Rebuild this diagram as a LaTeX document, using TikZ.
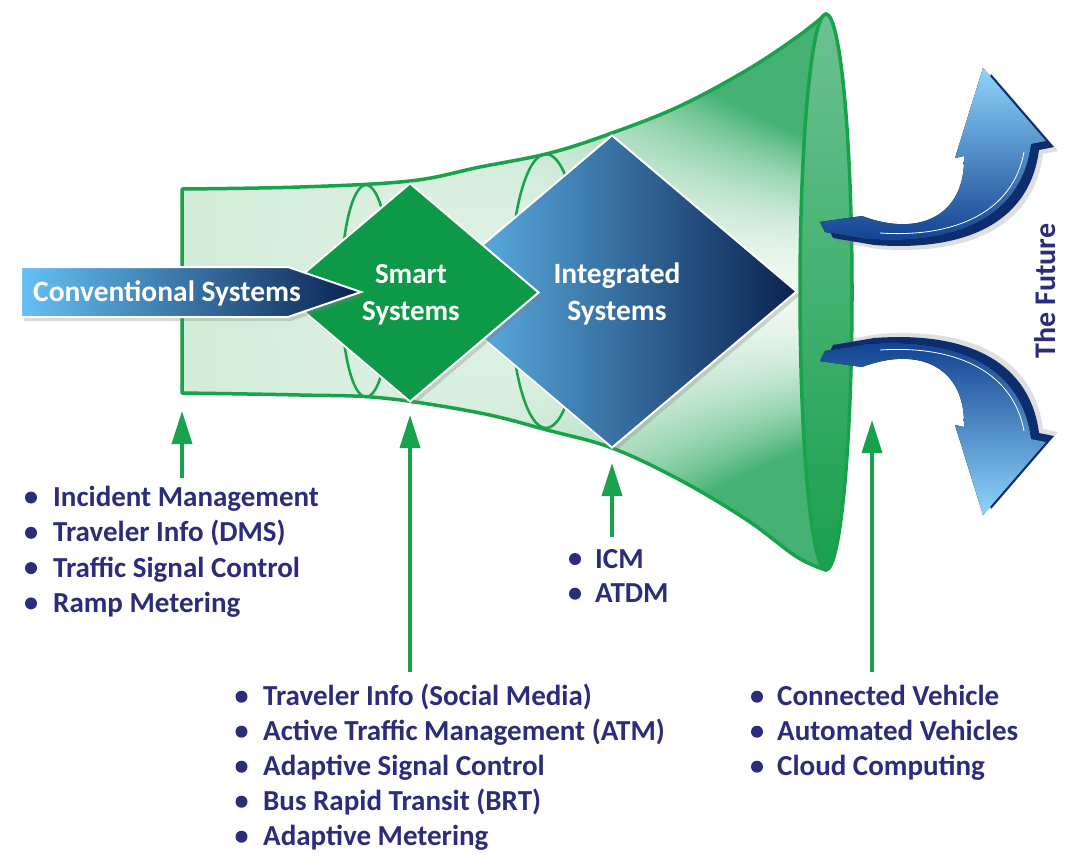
\documentclass[tikz,border=0pt]{standalone}
\usepackage{fontspec}
\setmainfont{Carlito}
\usetikzlibrary{arrows.meta,shapes.geometric,shadows}
\definecolor{fgreen}{HTML}{17A24B}
\definecolor{dgreen}{HTML}{0E9948}
\definecolor{navy}{HTML}{2B2C7A}
\definecolor{lblue}{HTML}{66C0F4}
\definecolor{mblue}{HTML}{1D62AE}
\definecolor{dblue}{HTML}{0A2250}
\definecolor{sideblue}{HTML}{0C2E6E}
\definecolor{rimT}{HTML}{6CC290}
\definecolor{rimB}{HTML}{1AA050}
\definecolor{arrL}{HTML}{8FD5FB}
\definecolor{arrD}{HTML}{0F3E8E}
\pgfdeclarefunctionalshading{cone}{\pgfpoint{0bp}{0bp}}{\pgfpoint{100bp}{100bp}}{}{
  50 sub abs 25 div dup 1 gt {pop 1} if
  2 exp
  exch 25 sub 50 div dup 0 lt {pop 0} if dup 1 gt {pop 1} if
  dup 3 exp
  3 -1 roll mul 3.5 mul dup 1 gt {pop 1} if
  1 index 0.12 mul 0.82 add dup 0.27 exch sub 2 index mul add
  2 index 0.05 mul 0.925 add dup 0.70 exch sub 3 index mul add
  3 index 0.10 mul 0.85 add dup 0.45 exch sub 4 index mul add
  5 -2 roll pop pop
}
\newcommand\futpath{(820,222) -- (862,216) .. controls (920,238) and (966,215) .. (964,156) -- (955,158) -- (983,68) -- (1046,141) -- (1031,144) .. controls (1022,215) and (960,246) .. (866,239) -- (825,232) -- cycle}
\newcommand\funnelpath{plot[smooth,tension=0.6] coordinates {(182,189) (300,187) (410,181) (480,167) (550,153) (612,133) (680,106) (747,70) (797,37) (826,14)} -- (826,570) -- plot[smooth,tension=0.6] coordinates {(826,570) (797,557) (747,520) (680,480) (612,448) (547,430) (480,413) (383,398) (300,395) (182,393)} -- cycle}
\begin{document}
\begin{tikzpicture}[x=1pt,y=-1pt,
  lst/.style={font=\fontsize{29}{32}\selectfont\bfseries, text=navy, anchor=base west, inner sep=0pt},
  wtxt/.style={font=\fontsize{#1}{32}\selectfont\bfseries, text=white, anchor=base, inner sep=0pt},
  garrow/.style={draw=fgreen, line width=3.5pt, -{Triangle[width=20pt,length=33pt]}},
  ring/.style={draw=fgreen, line width=2.5pt},
  dshadow/.style={drop shadow={shadow xshift=3pt, shadow yshift=-4pt, opacity=0.3}}]
\useasboundingbox (0,0) rectangle (1086,860);
\fill[white] (0,0) rectangle (1086,860);
% funnel body
\shade[shading=cone] \funnelpath;
% rings
\draw[ring] (366,291) ellipse [x radius=25, y radius=106];
\draw[ring] (546,291) ellipse [x radius=36, y radius=137];
% funnel outline
\draw[fgreen, line width=3.5pt, line join=round] \funnelpath;
% rim
\draw[fgreen, line width=3.5pt, top color=rimT, bottom color=rimB] (826,292) ellipse [x radius=26, y radius=278];
% diamonds
\node[diamond, minimum width=370pt, minimum height=313pt, inner sep=0pt, draw=white, line width=2pt,
  left color=lblue, middle color=mblue, right color=dblue, dshadow] (integ) at (612,291.5) {};
\node[diamond, minimum width=258pt, minimum height=219pt, inner sep=0pt, draw=white, line width=2pt,
  fill=dgreen, dshadow] (smart) at (410,292.5) {};
\node[wtxt=29] (smart1) at (411,283) {Smart};
\node[wtxt=29] (smart2) at (411,320) {Systems};
\node[wtxt=29.5] (integ1) at (617,283.5) {Integrated};
\node[wtxt=29.5] (integ2) at (617,320.5) {Systems};
% conventional arrow
\draw[white, line width=2pt, left color=lblue, middle color=mblue, right color=dblue, dshadow]
  (21,267) -- (288,267) -- (361,292) -- (288,317) -- (21,317) -- cycle;
\node[lst, text=white, font=\fontsize{29.5}{32}\selectfont\bfseries] (conv) at (33,301) {Conventional Systems};
% future arrows
\begin{scope}
  \fill[sideblue, shift={(8,6)}, drop shadow={shadow xshift=4pt, shadow yshift=-4pt, opacity=0.25}] \futpath;
  \fill[top color=arrL, bottom color=arrD] \futpath;
  \draw[white, line width=0.8pt] (1024,152) .. controls (1013,212) and (955,238) .. (880,233);
\end{scope}
\begin{scope}[shift={(0,583)}, yscale=-1]
  \fill[sideblue, shift={(8,6)}, drop shadow={shadow xshift=4pt, shadow yshift=4pt, opacity=0.25}] \futpath;
  \fill[bottom color=arrL, top color=arrD] \futpath;
  \draw[white, line width=0.8pt] (1024,152) .. controls (1013,212) and (955,238) .. (880,233);
\end{scope}
\node[font=\fontsize{30}{32}\selectfont\bfseries, text=navy, rotate=90, inner sep=0pt] (future) at (1045,291) {The Future};
% lists
\foreach \t [count=\i] in {Incident Management, Traveler Info (DMS), Traffic Signal Control, Ramp Metering}{
  \node[lst] (la\i) at (53,{506.5+35.3*(\i-1)}) {\t};
  \fill[navy] (31,{506.5+35.3*(\i-1)-9}) circle (6);
}
\foreach \t [count=\i] in {Traveler Info (Social Media), Active Traffic Management (ATM), Adaptive Signal Control, Bus Rapid Transit (BRT), Adaptive Metering}{
  \node[lst] (lb\i) at (263,{705.7+35*(\i-1)}) {\t};
  \fill[navy] (241.5,{705.7+35*(\i-1)-9}) circle (6);
}
\foreach \t [count=\i] in {ICM, ATDM}{
  \node[lst] (lc\i) at (595,{568+34.7*(\i-1)}) {\t};
  \fill[navy] (575,{568+34.7*(\i-1)-9}) circle (6);
}
\foreach \t [count=\i] in {Connected Vehicle, Automated Vehicles, Cloud Computing}{
  \node[lst] (ld\i) at (777,{705.7+35*(\i-1)}) {\t};
  \fill[navy] (757,{705.7+35*(\i-1)-9}) circle (6);
}
% green arrows
\coordinate (t1) at (182,411); \coordinate (s1) at (182,478);
\coordinate (t2) at (410,415); \coordinate (s2) at (410,672);
\coordinate (t3) at (612,463); \coordinate (s3) at (612,537);
\coordinate (t4) at (872,420); \coordinate (s4) at (872,672);
\draw[garrow] (s1) -- (t1);
\draw[garrow] (s2) -- (t2);
\draw[garrow] (s3) -- (t3);
\draw[garrow] (s4) -- (t4);
\end{tikzpicture}
\end{document}
